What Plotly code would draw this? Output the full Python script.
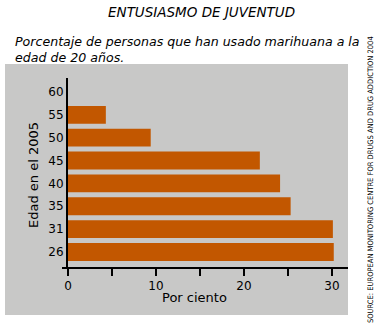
import plotly.graph_objects as go

categories = ["26", "31", "35", "40", "45", "50", "55", "60"]
values = [30.2, 30.1, 25.3, 24.1, 21.8, 9.4, 4.3, None]
tick_vals = [0, 5, 10, 15, 20, 25, 30]
tick_text = ["0", "", "10", "", "20", "", "30"]

W, H = 386, 333
L, R, T, B = 68, 348, 78, 268
ml, mr, mt, mb = L, W - R, T, H - B


def px(x):
    return (x - L) / (R - L)


def py(y):
    return (B - y) / (B - T)


FONT = "DejaVu Sans"
BAR = "#c25700"
GRAY = "#c8c8c7"

fig = go.Figure(go.Bar(
    x=values, y=categories, orientation="h",
    marker=dict(color=BAR, line=dict(width=0)),
    width=0.78,
))

fig.update_layout(
    width=W, height=H,
    margin=dict(l=ml, r=mr, t=mt, b=mb, pad=0),
    paper_bgcolor="white", plot_bgcolor="rgba(0,0,0,0)",
    showlegend=False,
    font=dict(family=FONT, color="black", size=12),
    xaxis=dict(
        range=[0, (R - L) / 8.8], tickvals=tick_vals, ticktext=tick_text,
        ticks="outside", ticklen=7, tickwidth=2, tickcolor="black",
        showgrid=False, zeroline=False, showline=False,
        tickfont=dict(size=12, family=FONT),
    ),
    yaxis=dict(
        type="category", categoryorder="array", categoryarray=categories,
        range=[-0.7, 7.61], showgrid=False, zeroline=False,
        showline=True, linecolor="black", linewidth=2,
        ticks="", tickfont=dict(size=12, family=FONT),
    ),
    shapes=[
        dict(type="rect", xref="paper", yref="paper",
             x0=px(5), x1=px(348), y0=py(315), y1=py(64),
             fillcolor=GRAY, line=dict(width=0), layer="below"),
        dict(type="line", xref="paper", yref="paper",
             x0=px(62), x1=px(348), y0=py(268), y1=py(268),
             line=dict(color="black", width=2)),
    ],
    annotations=[
        dict(text="<i>ENTUSIASMO DE JUVENTUD</i>", xref="paper", yref="paper",
             x=px(201), y=py(12), xanchor="center", yanchor="middle",
             showarrow=False, font=dict(size=13.5, family=FONT)),
        dict(text="<i>Porcentaje de personas que han usado marihuana a la<br>edad de 20 años.</i>",
             xref="paper", yref="paper", x=px(13), y=py(32),
             xanchor="left", yanchor="top", align="left", showarrow=False,
             font=dict(size=12.6, family=FONT)),
        dict(text="Edad en el 2005", xref="paper", yref="paper",
             x=px(33), y=py(175), textangle=-90, xanchor="center", yanchor="middle",
             showarrow=False, font=dict(size=13, family=FONT)),
        dict(text="Por ciento", xref="paper", yref="paper",
             x=px(194), y=py(297), xanchor="center", yanchor="middle",
             showarrow=False, font=dict(size=13, family=FONT)),
        dict(text="SOURCE: EUROPEAN MONITORING CENTRE FOR DRUGS AND DRUG ADDICTION 2004",
             xref="paper", yref="paper", x=px(370), y=py(180), textangle=-90,
             xanchor="center", yanchor="middle", showarrow=False,
             font=dict(size=7.5, family="DejaVu Sans Condensed")),
    ],
)

fig.write_html("out.html")
